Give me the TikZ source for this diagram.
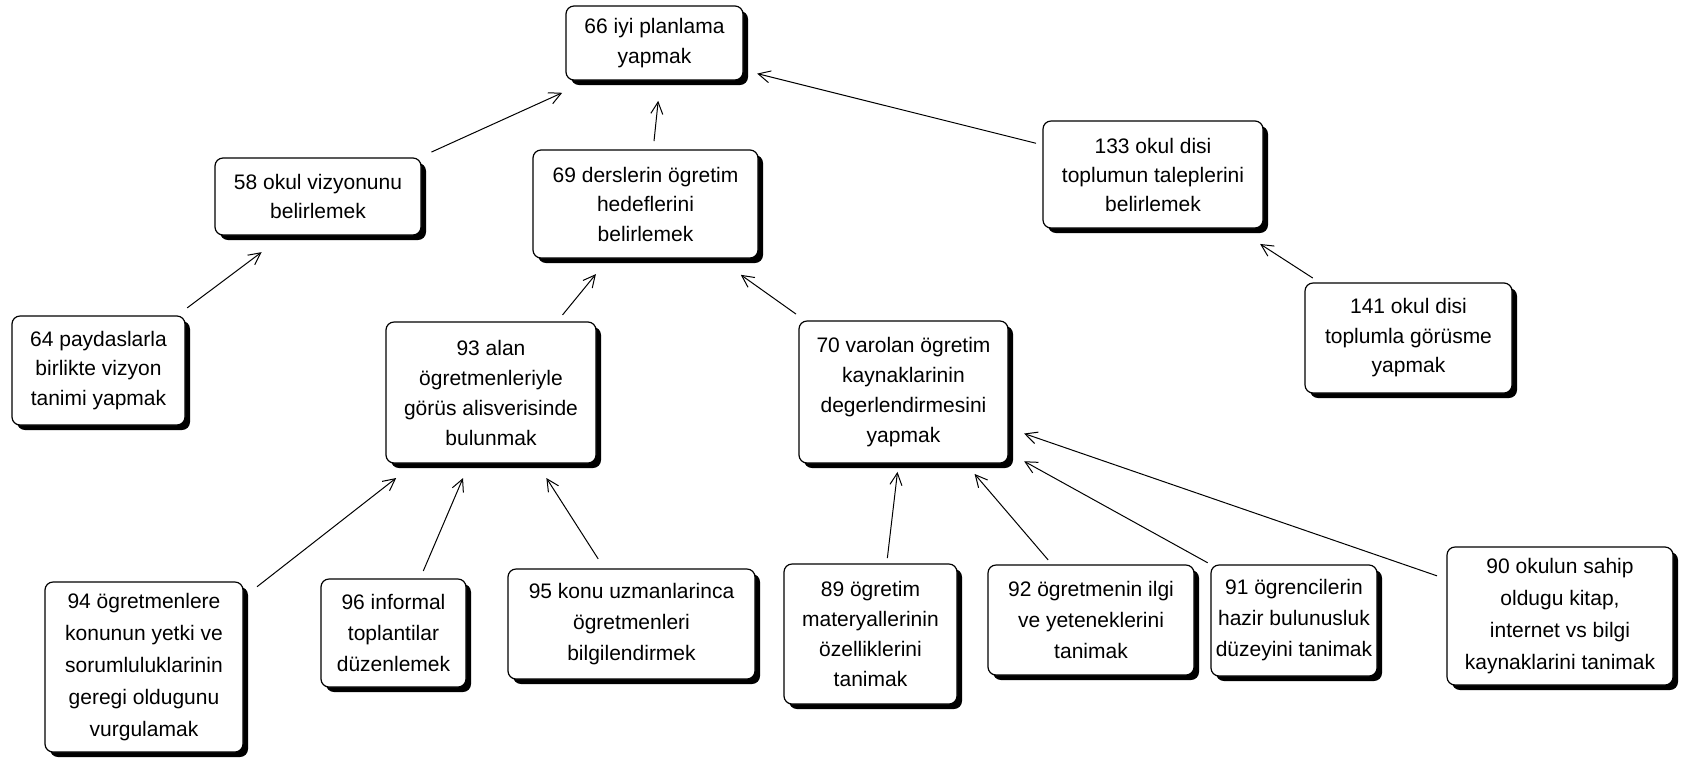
\documentclass[tikz,border=0pt]{standalone}
\usepackage{fontspec}
\setmainfont{Liberation Sans}
\usetikzlibrary{arrows.meta,shadows}

\tikzset{
  box/.style={draw, line width=0.6pt, rounded corners=4pt, fill=white,
    align=center, inner sep=0pt, outer sep=0pt,
    drop shadow={shadow xshift=2.5pt, shadow yshift=-2.5pt, opacity=1, fill=black},
    font=\fontsize{10.5}{15}\selectfont},
  wh/.style 2 args={minimum width=#1*0.5pt, minimum height=#2*0.5pt},
  ls/.style={font=\fontsize{10.5}{#1}\selectfont},
  arr/.style={-{Straight Barb[length=6pt,width=6pt]}, line width=0.5pt}
}

\begin{document}
\begin{tikzpicture}[x=0.5pt, y=-0.5pt]
\useasboundingbox (0,0) rectangle (1682,757);

% top level
\node[box, wh={177}{74}] (A) at (654.5,43) {66 iyi planlama\\yapmak};

% second level
\node[box, wh={206}{77}, ls=14.5] (B) at (318,196.5) {58 okul vizyonunu\\belirlemek};
\node[box, wh={225}{108}, ls=14.75] (D) at (645.5,204) {69 derslerin ögretim\\hedeflerini\\belirlemek};
\node[box, wh={220}{107}, ls=14.5] (E) at (1153,174.5) {133 okul disi\\toplumun taleplerini\\belirlemek};

% third level
\node[box, wh={173}{109}, ls=14.75] (C) at (98.5,370.5) {64 paydaslarla\\birlikte vizyon\\tanimi yapmak};
\node[box, wh={210}{141}] (G) at (491,392.5) {93 alan\\ögretmenleriyle\\görüs alisverisinde\\bulunmak};
\node[box, wh={209}{142}] (H) at (903.5,392) {70 varolan ögretim\\kaynaklarinin\\degerlendirmesini\\yapmak};
\node[box, wh={207}{110}, ls=14.75] (F) at (1408.5,338) {141 okul disi\\toplumla görüsme\\yapmak};

% bottom row
\node[box, wh={198}{170}, ls=16] (I) at (144,667) {94 ögretmenlere\\konunun yetki ve\\sorumluluklarinin\\geregi oldugunu\\vurgulamak};
\node[box, wh={145}{108}, ls=15.5] (J) at (393.5,633) {96 informal\\toplantilar\\düzenlemek};
\node[box, wh={247}{110}, ls=15.3] (K) at (631.5,624) {95 konu uzmanlarinca\\ögretmenleri\\bilgilendirmek};
\node[box, wh={173}{140}] (L) at (870.5,634) {89 ögretim\\materyallerinin\\özelliklerini\\tanimak};
\node[box, wh={206}{110}, ls=15.5] (M) at (1091,620) {92 ögretmenin ilgi\\ve yeteneklerini\\tanimak};
\node[box, wh={166}{111}, ls=15.5] (N) at (1294,620.5) {91 ögrencilerin\\hazir bulunusluk\\düzeyini tanimak};
\node[box, wh={226}{138}, ls=16] (O) at (1560,616) {90 okulun sahip\\oldugu kitap,\\internet vs bilgi\\kaynaklarini tanimak};

% connectors
\draw[arr, shorten <=7.2pt, shorten >=15.5pt] (B.21.1) -- (A.-150.5);
\draw[arr, shorten <=4.5pt, shorten >=10.5pt] (D.82.1) -- (A.-81.5);
\draw[arr, shorten <=3.6pt, shorten >=7.3pt] (E.165.9) -- (A.-17.2);
\draw[arr, shorten <=6.8pt, shorten >=14.3pt] (C.35.8) -- (B.-131.4);
\draw[arr, shorten <=4.6pt, shorten >=10.4pt] (G.47.7) -- (D.-124.6);
\draw[arr, shorten <=6pt, shorten >=14.5pt] (H.144.6) -- (D.-37.3);
\draw[arr, shorten <=4.6pt, shorten >=14.7pt] (F.148.5) -- (E.-33.3);
\draw[arr, shorten <=8.9pt, shorten >=12.2pt] (I.35.7) -- (G.-137.8);
\draw[arr, shorten <=4.4pt, shorten >=8.2pt] (J.64.7) -- (G.-107);
\draw[arr, shorten <=6pt, shorten >=8.9pt] (K.116.2) -- (G.-57.2);
\draw[arr, shorten <=3pt, shorten >=4.5pt] (L.77.3) -- (H.-94.4);
\draw[arr, shorten <=3.3pt, shorten >=7.2pt] (M.125.9) -- (H.-49.2);
\draw[arr, shorten <=2.3pt, shorten >=9.2pt] (N.146.8) -- (H.-30.3);
\draw[arr, shorten <=5.3pt, shorten >=8.5pt] (O.162.6) -- (H.-19.3);
\end{tikzpicture}
\end{document}
